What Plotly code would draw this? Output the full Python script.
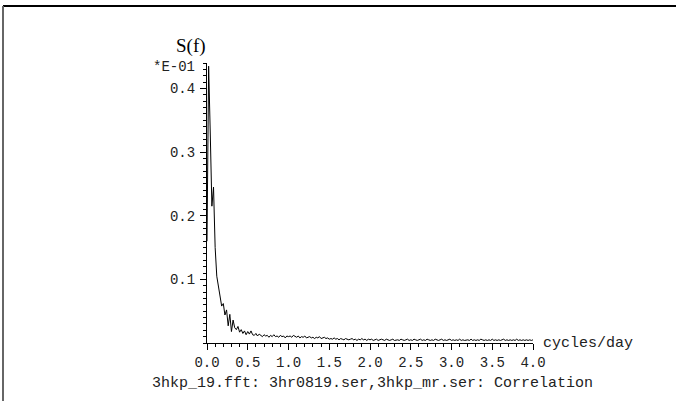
import plotly.graph_objects as go

# ---- data (S(f) in units of 1E-01, frequency step 0.02 cycles/day) ----
freq_step = 0.02
power_0_048 = [0.16, 0.435, 0.33, 0.215, 0.245, 0.15, 0.105, 0.088, 0.076, 0.058,
               0.062, 0.044, 0.052, 0.027, 0.045, 0.018, 0.036, 0.024, 0.021, 0.026,
               0.017, 0.021, 0.015, 0.019, 0.013]
power_050_100 = [0.018, 0.014, 0.019, 0.013, 0.012, 0.015, 0.011, 0.014, 0.012, 0.010,
                 0.013, 0.011, 0.012, 0.009, 0.012, 0.010, 0.013, 0.010, 0.011, 0.009,
                 0.012, 0.010, 0.011, 0.008, 0.011, 0.010]
power_102_150 = [0.011, 0.009, 0.012, 0.010, 0.009, 0.011, 0.008, 0.010, 0.009, 0.011,
                 0.008, 0.009, 0.010, 0.008, 0.009, 0.007, 0.009, 0.008, 0.010, 0.007,
                 0.008, 0.009, 0.007, 0.008, 0.006]
power_152_200 = [0.007, 0.006, 0.008, 0.006, 0.007, 0.005, 0.007, 0.006, 0.005, 0.007,
                 0.006, 0.005, 0.006, 0.007, 0.005, 0.006, 0.004, 0.006, 0.005, 0.007,
                 0.005, 0.006, 0.004, 0.006, 0.005]
power_202_250 = [0.006, 0.004, 0.005, 0.006, 0.004, 0.005, 0.006, 0.005, 0.004, 0.006,
                 0.005, 0.004, 0.005, 0.006, 0.004, 0.005, 0.005, 0.004, 0.006, 0.005,
                 0.004, 0.005, 0.006, 0.004, 0.005]
power_252_300 = [0.004, 0.006, 0.005, 0.004, 0.005, 0.006, 0.004, 0.005, 0.004, 0.006,
                 0.005, 0.004, 0.005, 0.004, 0.006, 0.005, 0.004, 0.005, 0.006, 0.004,
                 0.005, 0.004, 0.005, 0.006, 0.004]
power_302_350 = [0.005, 0.004, 0.005, 0.004, 0.006, 0.004, 0.005, 0.004, 0.005, 0.005,
                 0.004, 0.006, 0.004, 0.005, 0.004, 0.005, 0.004, 0.006, 0.005, 0.004,
                 0.005, 0.004, 0.005, 0.004, 0.006]
power_352_400 = [0.004, 0.005, 0.004, 0.005, 0.004, 0.005, 0.006, 0.004, 0.005, 0.004,
                 0.005, 0.004, 0.005, 0.004, 0.006, 0.004, 0.005, 0.004, 0.005, 0.004,
                 0.005, 0.004, 0.005, 0.004, 0.005]

power = (power_0_048 + power_050_100 + power_102_150 + power_152_200 +
         power_202_250 + power_252_300 + power_302_350 + power_352_400)
freq = [round(i * freq_step, 4) for i in range(len(power))]

x_ticks = [0.0, 0.5, 1.0, 1.5, 2.0, 2.5, 3.0, 3.5, 4.0]
y_ticks = [0.1, 0.2, 0.3, 0.4]

title_text = "3hkp_19.fft: 3hr0819.ser,3hkp_mr.ser: Correlation"
y_label = "S(f)"
y_scale = "*E-01"
x_label = "cycles/day"

W, H = 676, 401
MONO = "Liberation Mono"
TXT = "#222"

fig = go.Figure()
fig.add_trace(go.Scatter(x=freq, y=power, mode="lines",
                         line=dict(color="black", width=1), hoverinfo="skip"))

fig.update_layout(
    width=W, height=H, margin=dict(l=0, r=0, t=0, b=0, autoexpand=False),
    paper_bgcolor="white", plot_bgcolor="white", showlegend=False,
    xaxis=dict(domain=[207 / W, 533 / W], range=[0, 4], showgrid=False, zeroline=False,
               automargin=False,
               showline=True, linecolor="black", linewidth=1,
               ticks="outside", ticklen=6, tickcolor="black", tickwidth=1,
               tickvals=x_ticks, ticktext=[f"{v:.1f}" for v in x_ticks],
               tickfont=dict(family=MONO, size=14, color=TXT),
               minor=dict(dtick=0.1, tick0=0, ticks="outside", ticklen=3,
                          tickcolor="black", showgrid=False)),
    yaxis=dict(domain=[1 - 343 / H, 1 - 63 / H], range=[0, 0.44], showgrid=False,
               zeroline=False, showline=True, linecolor="black", linewidth=1,
               automargin=False,
               ticks="outside", ticklen=6, tickcolor="black", tickwidth=1,
               tickvals=y_ticks, ticktext=[f"{v:.1f}" for v in y_ticks],
               ticklabelstandoff=2,
               tickfont=dict(family=MONO, size=14, color=TXT),
               minor=dict(dtick=0.01, tick0=0, ticks="outside", ticklen=3,
                          tickcolor="black", showgrid=False)),
)

# frame lines (top and left)
fig.add_shape(type="line", xref="paper", yref="paper", x0=3 / W, x1=1.05, y0=1 - 6 / H,
              y1=1 - 6 / H, line=dict(color="black", width=2))
fig.add_shape(type="line", xref="paper", yref="paper", x0=3 / W, x1=3 / W, y0=-0.05,
              y1=1 - 6 / H, line=dict(color="#666", width=2))

fig.add_annotation(text=y_label, xref="paper", yref="paper", x=191 / W, y=1 - 46 / H,
                   xanchor="center", yanchor="middle", showarrow=False,
                   font=dict(family="Liberation Serif", size=19, color="black"))
fig.add_annotation(text=y_scale, xref="paper", yref="paper", x=197 / W, y=1 - 67 / H,
                   xanchor="right", yanchor="middle", showarrow=False,
                   font=dict(family=MONO, size=14, color=TXT))
fig.add_annotation(text=x_label, xref="paper", yref="paper", x=541 / W, y=1 - 343 / H,
                   xanchor="left", yanchor="middle", showarrow=False,
                   font=dict(family=MONO, size=15, color=TXT))
fig.add_annotation(text=title_text, xref="paper", yref="paper", x=150 / W, y=1 - 383 / H,
                   xanchor="left", yanchor="middle", showarrow=False,
                   font=dict(family=MONO, size=15, color=TXT))

fig.write_html("out.html", config={"displayModeBar": False})
